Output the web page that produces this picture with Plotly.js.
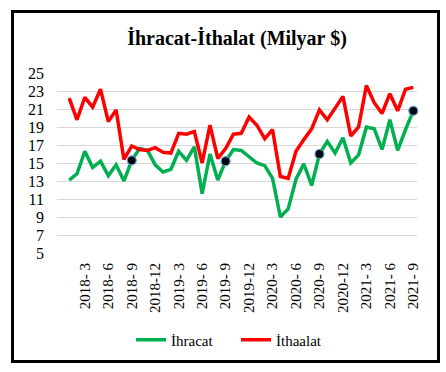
<!DOCTYPE html>
<html>
<head>
<meta charset="utf-8">
<script src="https://cdn.plot.ly/plotly-3.0.1.min.js"></script>
<style>html,body{margin:0;padding:0;background:#fff;}#chart{width:446px;height:372px;}</style>
</head>
<body>
<div id="chart"></div>
<script>
const months = [
  '2018-1','2018-2','2018-3','2018-4','2018-5','2018-6','2018-7','2018-8','2018-9','2018-10','2018-11','2018-12',
  '2019-1','2019-2','2019-3','2019-4','2019-5','2019-6','2019-7','2019-8','2019-9','2019-10','2019-11','2019-12',
  '2020-1','2020-2','2020-3','2020-4','2020-5','2020-6','2020-7','2020-8','2020-9','2020-10','2020-11','2020-12',
  '2021-1','2021-2','2021-3','2021-4','2021-5','2021-6','2021-7','2021-8','2021-9'
];
const ihracat = [
  13.1, 13.8, 16.3, 14.5, 15.2, 13.6, 14.8, 13.0, 15.3, 16.6, 16.4, 14.8,
  14.0, 14.3, 16.3, 15.3, 16.8, 11.6, 16.0, 13.1, 15.2, 16.5, 16.4, 15.7,
  15.0, 14.7, 13.3, 9.0, 9.9, 13.2, 14.9, 12.5, 16.0, 17.4, 16.1, 17.8,
  15.0, 15.9, 19.0, 18.8, 16.5, 19.8, 16.4, 18.7, 20.8
];
const ithalat = [
  22.2, 19.8, 22.3, 21.2, 23.2, 19.6, 20.9, 15.4, 16.9, 16.5, 16.4, 16.7,
  16.2, 16.1, 18.3, 18.2, 18.5, 15.0, 19.2, 15.5, 16.6, 18.2, 18.3, 20.1,
  19.2, 17.7, 18.7, 13.5, 13.3, 16.3, 17.6, 18.8, 20.9, 19.8, 21.1, 22.4,
  18.0, 19.0, 23.6, 21.7, 20.5, 22.7, 20.8, 23.2, 23.4
];
const tickMonths = ['2018-3','2018-6','2018-9','2018-12','2019-3','2019-6','2019-9','2019-12',
  '2020-3','2020-6','2020-9','2020-12','2021-3','2021-6','2021-9'];
const tickLabels = ['2018- 3','2018- 6','2018- 9','2018-12','2019- 3','2019- 6','2019- 9','2019-12',
  '2020- 3','2020- 6','2020- 9','2020-12','2021- 3','2021- 6','2021- 9'];
const dotMonths = ['2018-9','2019-9','2020-9','2021-9'];
const seriesNames = ['İhracat','İthaalat'];

const dotY = dotMonths.map(m => ihracat[months.indexOf(m)]);
const serif = "'Liberation Serif', 'Times New Roman', serif";

const data = [
  {x: months, y: ihracat, type: 'scatter', mode: 'lines', name: seriesNames[0],
   line: {color: '#00B050', width: 3.5}},
  {x: months, y: ithalat, type: 'scatter', mode: 'lines', name: seriesNames[1],
   line: {color: '#FF0000', width: 3.5}},
  {x: dotMonths, y: dotY, type: 'scatter', mode: 'markers', showlegend: false,
   marker: {color: '#000814', size: 9, line: {color: '#6f9bc9', width: 1.2}}, cliponaxis: false}
];

const L = 57, R = 29, T = 73, B = 119;
const pw = 446 - L - R, ph = 372 - T - B;
const px = v => (v - L) / pw;
const py = v => (372 - B - v) / ph;

const layout = {
  width: 446, height: 372,
  margin: {l: L, r: R, t: T, b: B, pad: 0},
  paper_bgcolor: '#ffffff', plot_bgcolor: '#ffffff',
  font: {family: serif, color: '#000', size: 15},
  title: {text: 'İhracat-İthalat (Milyar $)', font: {family: serif, size: 20, weight: 'bold', color: '#000'},
          x: 0.5, xref: 'paper', xanchor: 'center', y: 1 - 38/372, yref: 'container', yanchor: 'middle'},
  xaxis: {type: 'category', range: [-1.56, 44.47], showgrid: false, zeroline: false, showline: false,
          tickmode: 'array', tickvals: tickMonths, ticktext: tickLabels, tickangle: -90,
          ticks: '', ticklabelstandoff: 6, tickfont: {family: serif, size: 15, color: '#000'}, fixedrange: true},
  yaxis: {range: [5, 25], tick0: 5, dtick: 2, showgrid: true, gridcolor: '#d9d9d9', gridwidth: 1,
          zeroline: false, showline: false, ticks: '', ticklabelstandoff: 12,
          tickfont: {family: serif, size: 16, color: '#000'}, fixedrange: true},
  showlegend: true,
  legend: {orientation: 'h', x: px(131), xanchor: 'left', y: py(340), yanchor: 'middle',
           entrywidth: 60, entrywidthmode: 'pixels',
           font: {family: serif, size: 15, color: '#000'}, bgcolor: 'rgba(0,0,0,0)'},
  shapes: [
    {type: 'rect', xref: 'paper', yref: 'paper', x0: px(12.5), x1: px(438.5), y0: py(361.5), y1: py(11.5),
     line: {color: '#000', width: 3}, fillcolor: 'rgba(0,0,0,0)', layer: 'above'}
  ]
};

Plotly.newPlot('chart', data, layout, {displayModeBar: false, staticPlot: true});
</script>
</body>
</html>
